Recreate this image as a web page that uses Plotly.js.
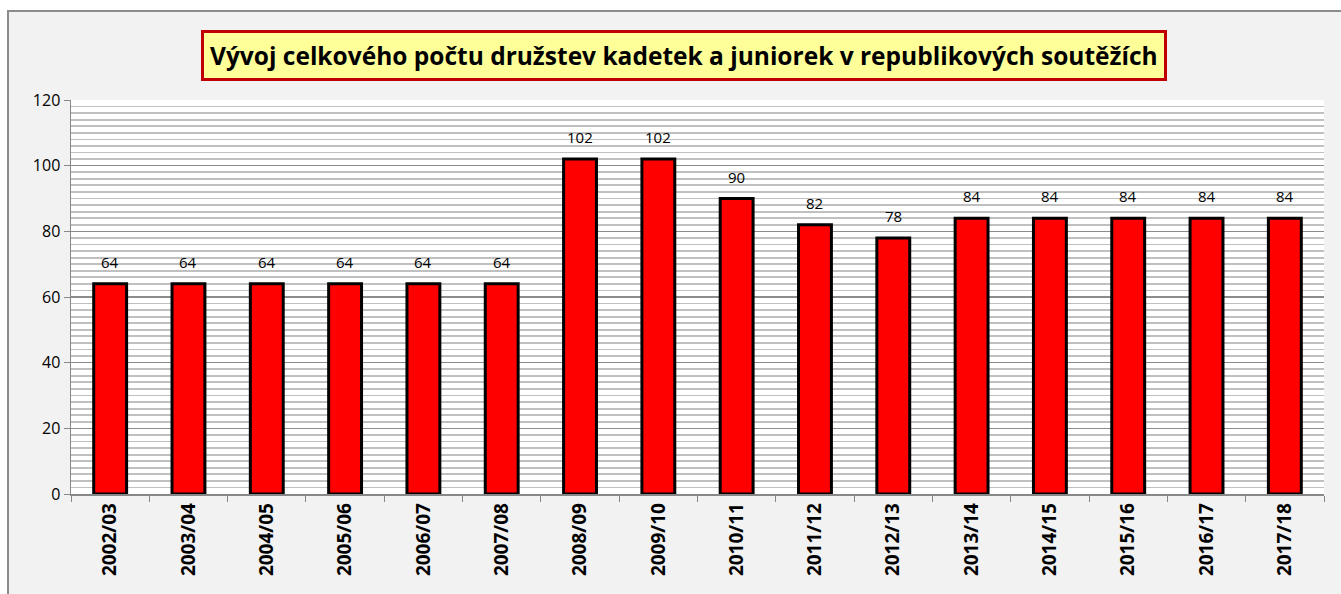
<!DOCTYPE html>
<html>
<head>
<meta charset="utf-8">
<script src="https://cdn.plot.ly/plotly-3.0.1.min.js"></script>
<style>
  html, body { margin: 0; padding: 0; background: #ffffff; overflow: hidden; }
  #frame { position: absolute; left: 7px; top: 10px; width: 1334px; height: 584px;
           border-left: 2px solid #8c8c8c; border-top: 2px solid #8c8c8c; overflow: hidden; background:#f2f2f2; }
  #chart { width: 1334px; height: 584px; }
</style>
</head>
<body>
<div id="frame"><div id="chart"></div></div>
<script>
const seasons = ["2002/03","2003/04","2004/05","2005/06","2006/07","2007/08","2008/09","2009/10","2010/11","2011/12","2012/13","2013/14","2014/15","2015/16","2016/17","2017/18"];
const teams = [64,64,64,64,64,64,102,102,90,82,78,84,84,84,84,84];
const titleText = "Vývoj celkového počtu družstev kadetek a juniorek v republikových soutěžích";

const labelAnnotations = seasons.map((s, i) => ({
  x: s, y: teams[i], xref: 'x', yref: 'y', text: String(teams[i]),
  showarrow: false, yshift: 22, font: {family: 'Open Sans, sans-serif', size: 15, color: '#000'}
}));

const data = [{
  type: 'bar', x: seasons, y: teams, width: 0.42,
  marker: {color: '#ff0000', line: {color: '#000000', width: 3}},
  hoverinfo: 'skip'
}];

const layout = {
  width: 1334, height: 584,
  paper_bgcolor: '#f2f2f2', plot_bgcolor: '#ffffff',
  margin: {l: 62, r: 19, t: 88, b: 102},
  showlegend: false,
  xaxis: {
    type: 'category', tickson: 'boundaries', ticks: 'outside', ticklen: 6, tickcolor: '#888',
    showline: true, linecolor: '#888', linewidth: 1.5, showgrid: false,
    tickangle: -90, tickfont: {family: 'Open Sans, sans-serif', size: 19, color: '#000', weight: 'bold'}
  },
  yaxis: {
    range: [0, 120], dtick: 20, ticks: 'outside', ticklen: 6, tickcolor: '#888',
    showline: true, linecolor: '#888', linewidth: 1.5,
    showgrid: true, gridcolor: '#8c8c8c', gridwidth: 1.5, zeroline: false,
    tickfont: {family: 'Open Sans, sans-serif', size: 16, color: '#000'},
    minor: {dtick: 2, showgrid: true, gridcolor: '#c0c0c0', gridwidth: 1.8, ticks: ''}
  },
  annotations: [{
    xref: 'paper', yref: 'paper', x: 0.489, y: 1.112, xanchor: 'center', yanchor: 'middle',
    text: '<b>' + titleText + '</b>', showarrow: false,
    font: {family: 'Open Sans, sans-serif', size: 24.5, color: '#000'},
    bgcolor: '#ffff99', bordercolor: '#c00000', borderwidth: 3, borderpad: 6
  }].concat(labelAnnotations)
};

Plotly.newPlot('chart', data, layout, {displayModeBar: false, staticPlot: true});
</script>
</body>
</html>
